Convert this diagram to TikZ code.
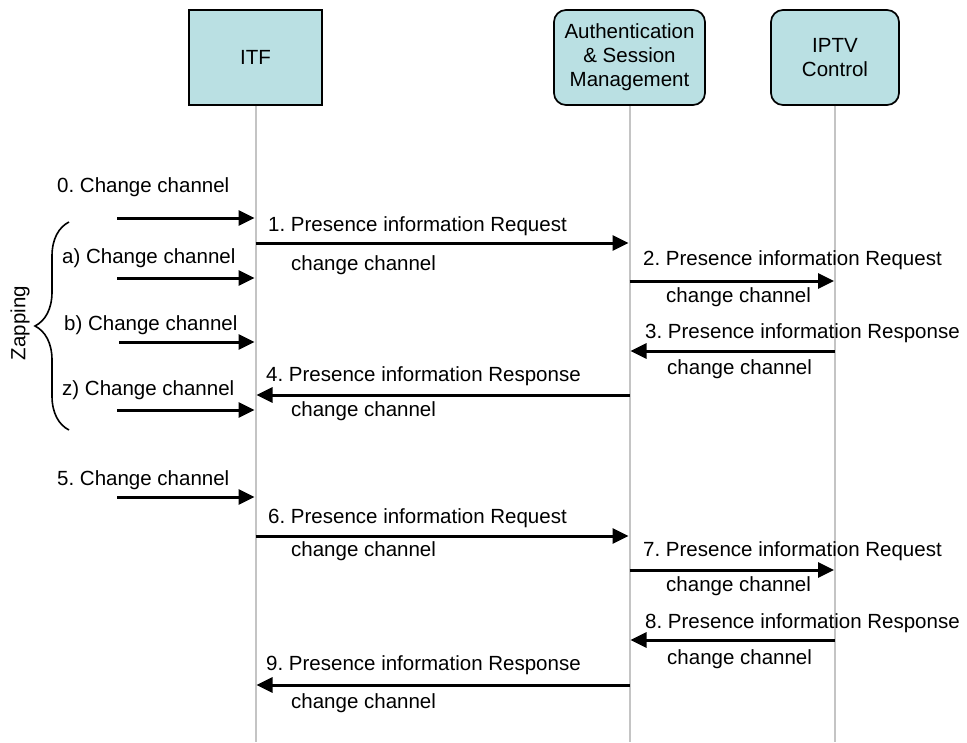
\documentclass[tikz,border=0pt]{standalone}
\usepackage{fontspec}
\setmainfont{Liberation Sans}
\usetikzlibrary{arrows.meta, positioning, decorations.pathreplacing}
\definecolor{boxfill}{RGB}{186,224,227}
\definecolor{lifegray}{RGB}{196,196,196}
\frenchspacing

\begin{document}
\begin{tikzpicture}[x=1pt, y=-1pt, font=\fontsize{20.5}{24}\selectfont, box/.style={draw, line width=1.7pt, fill=boxfill, align=center, minimum height=95pt}, arrow/.style={-{Triangle[length=16pt, width=15pt]}, line width=3pt, shorten >=1pt}, life/.style={draw=lifegray, line width=2pt}, lbl/.style={anchor=base west, inner sep=0pt}]
\useasboundingbox (0,0) rectangle (967,742);

% participants
\node[box, minimum width=133pt] (itf) at (255.5,57.5) {ITF};
\node[box, rounded corners=12pt, minimum width=151pt] (asm) at (629.5,57.5) {Authentication\\\& Session\\Management};
\node[box, rounded corners=12pt, minimum width=128pt] (iptv) at (835,57.5) {IPTV\\Control};
\coordinate (bot) at (0,742);
\draw[life](itf)--(itf |- bot);\draw[life](asm)--(asm |- bot);\draw[life](iptv)--(iptv |- bot);

% message rows
\coordinate (s0) at (117,218); \coordinate (sa) at (117,278); \coordinate (sb) at (119,342); \coordinate (sz) at (117,410); \coordinate (s5) at (117,497);
\coordinate (r1) at (0,243); \coordinate (r2) at (0,281); \coordinate (r3) at (0,351); \coordinate (r4) at (0,395);
\coordinate (r6) at (0,536); \coordinate (r7) at (0,570); \coordinate (r8) at (0,640); \coordinate (r9) at (0,685);

% zapping
\node[lbl] (l0) at (57,192) {0. Change channel};
\node[lbl] (l1) at (268,231) {1. Presence information Request};
\node[lbl] (c1) at (291,270) {change channel};
\node[lbl] (la) at (62,263) {a) Change channel};
\node[lbl] (l2) at (643,265) {2. Presence information Request};
\node[lbl] (c2) at (666,302) {change channel};
\node[lbl] (lb) at (64,330) {b) Change channel};
\node[lbl] (l3) at (645,338) {3. Presence information Response};
\node[lbl] (c3) at (667,374) {change channel};
\node[lbl] (l4) at (266,381) {4. Presence information Response};
\node[lbl] (c4) at (291,416) {change channel};
\node[lbl] (lz) at (62,395) {z) Change channel};
\draw[arrow](s0)--(itf |- s0);\draw[arrow](sa)--(itf |- sa);\draw[arrow](sb)--(itf |- sb);\draw[arrow](sz)--(itf |- sz);
\draw[arrow](itf |- r1)--(asm |- r1);\draw[arrow](asm |- r2)--(iptv |- r2);\draw[arrow](iptv |- r3)--(asm |- r3);\draw[arrow](asm |- r4)--(itf |- r4);

\coordinate (bt) at (69,222); \coordinate (bb) at (69,430);
\draw[line width=1.6pt, decorate, decoration={brace, amplitude=34pt, aspect=0.5}](bb)--(bt);
\node[rotate=90] (zap) at (20,323) {Zapping};

% single change
\node[lbl] (l5) at (57,485) {5. Change channel};
\node[lbl] (l6) at (268,523) {6. Presence information Request};
\node[lbl] (c6) at (291,556) {change channel};
\node[lbl] (l7) at (643,556) {7. Presence information Request};
\node[lbl] (c7) at (666,591) {change channel};
\node[lbl] (l8) at (645,628) {8. Presence information Response};
\node[lbl] (c8) at (667,664) {change channel};
\node[lbl] (l9) at (266,670) {9. Presence information Response};
\node[lbl] (c9) at (291,708) {change channel};
\draw[arrow](s5)--(itf |- s5);
\draw[arrow](itf |- r6)--(asm |- r6);\draw[arrow](asm |- r7)--(iptv |- r7);\draw[arrow](iptv |- r8)--(asm |- r8);\draw[arrow](asm |- r9)--(itf |- r9);

\end{tikzpicture}
\end{document}
